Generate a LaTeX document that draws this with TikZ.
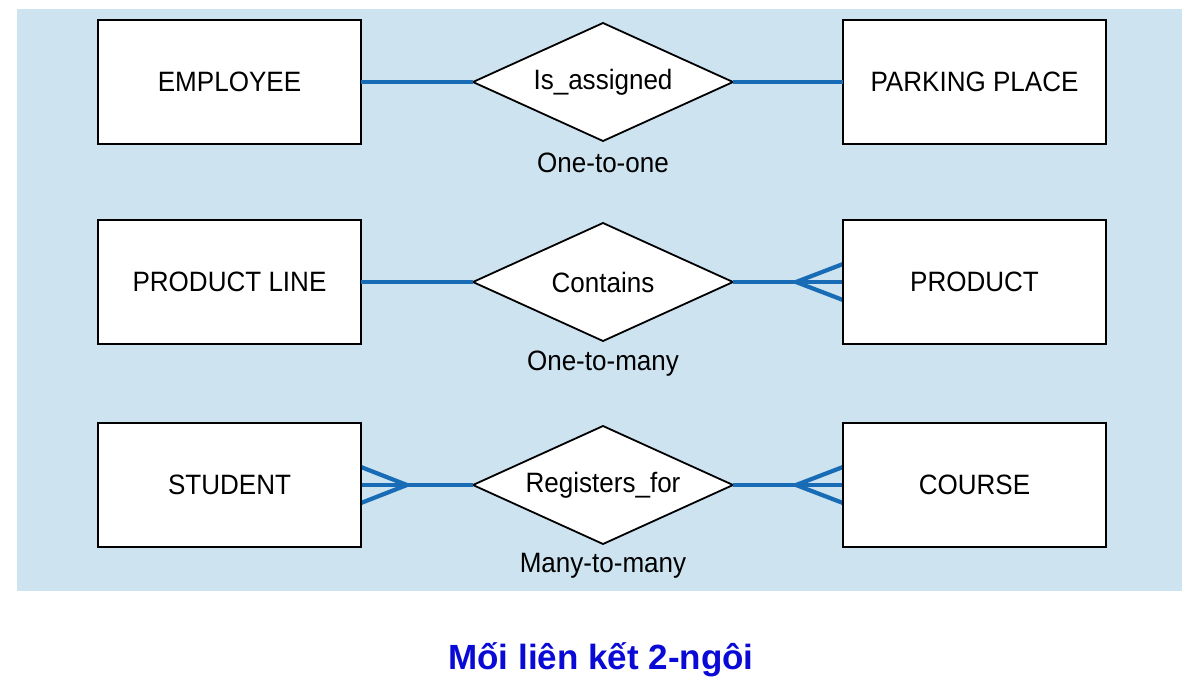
\documentclass[tikz,border=0pt]{standalone}
\usepackage{fontspec}
\setmainfont{Liberation Sans}
\newfontfamily\diag[FakeStretch=0.93]{Liberation Sans}
\usetikzlibrary{shapes.geometric,calc}
\definecolor{bgblue}{RGB}{205,227,240}
\definecolor{lineblue}{RGB}{24,108,182}
\definecolor{titleblue}{RGB}{10,10,215}
\tikzset{
  entity/.style={draw=black, line width=2.6pt, fill=white, minimum width=263pt, minimum height=124pt, inner sep=0pt, outer sep=0pt, font=\diag\fontsize{28}{32}\selectfont},
  relation/.style={draw=black, line width=1.8pt, fill=white, shape=diamond, minimum width=260pt, minimum height=118pt, inner sep=0pt, outer sep=0pt},
  rtext/.style={font=\diag\fontsize{28}{32}\selectfont, inner sep=0pt},
  card/.style={font=\diag\fontsize{28}{32}\selectfont, inner sep=0pt},
  link/.style={draw=lineblue, line width=4.2pt},
  foot/.style={draw=lineblue, line width=4.2pt, line join=round},
  edge/.style={draw=black, line width=2.6pt}
}
\begin{document}
\begin{tikzpicture}[x=1pt,y=-1pt]
\useasboundingbox (0,0) rectangle (1203,689);
\fill[bgblue] (17,9) rectangle (1182,591);

% row 1
\node[entity] (emp) at (229.5,82) {EMPLOYEE};
\node[entity] (park) at (974.5,82) {PARKING PLACE};
\node[relation] (asg) at (603,82) {};
\node[rtext] (asgt) at (asg.center) {Is\_assigned};
\node[card] (c1) at (603,163) {One-to-one};
\draw[link] (emp.east) -- (asg.west);
\draw[link] (asg.east) -- (park.west);

% row 2
\node[entity] (pline) at (229.5,282) {PRODUCT LINE};
\node[entity] (prod) at (974.5,282) {PRODUCT};
\node[relation] (cont) at (603,282) {};
\node[rtext] (contt) at (cont.center) {Contains};
\node[card] (c2) at (603,364) {One-to-many};
\draw[link] (pline.east) -- (cont.west);
\draw[link] (cont.east) -- (prod.west);
\coordinate (f2) at ($(prod.west)+(-47,0)$);
\coordinate (f2a) at ($(prod.west)+(0,-18)$);
\coordinate (f2b) at ($(prod.west)+(0,18)$);
\draw[foot] (f2a) -- (f2) -- (f2b);

% row 3
\node[entity] (stu) at (229.5,485) {STUDENT};
\node[entity] (crs) at (974.5,485) {COURSE};
\node[relation] (reg) at (603,485) {};
\node[rtext] (regt) at (reg.center) {Registers\_for};
\node[card] (c3) at (603,566) {Many-to-many};
\draw[link] (stu.east) -- (reg.west);
\draw[link] (reg.east) -- (crs.west);
\coordinate (f3) at ($(crs.west)+(-47,0)$);
\coordinate (f3a) at ($(crs.west)+(0,-18)$);
\coordinate (f3b) at ($(crs.west)+(0,18)$);
\draw[foot] (f3a) -- (f3) -- (f3b);
\coordinate (g3) at ($(stu.east)+(46,0)$);
\coordinate (g3a) at ($(stu.east)+(0,-18)$);
\coordinate (g3b) at ($(stu.east)+(0,18)$);
\draw[foot] (g3a) -- (g3) -- (g3b);

% redraw box borders over foot ends
\draw[edge] (prod.north west) -- (prod.south west);
\draw[edge] (crs.north west) -- (crs.south west);
\draw[edge] (stu.north east) -- (stu.south east);

\node[text=titleblue, font=\bfseries\fontsize{35}{40}\selectfont, inner sep=0pt] (title) at (601,660) {Mối liên kết 2-ngôi};
\end{tikzpicture}
\end{document}
